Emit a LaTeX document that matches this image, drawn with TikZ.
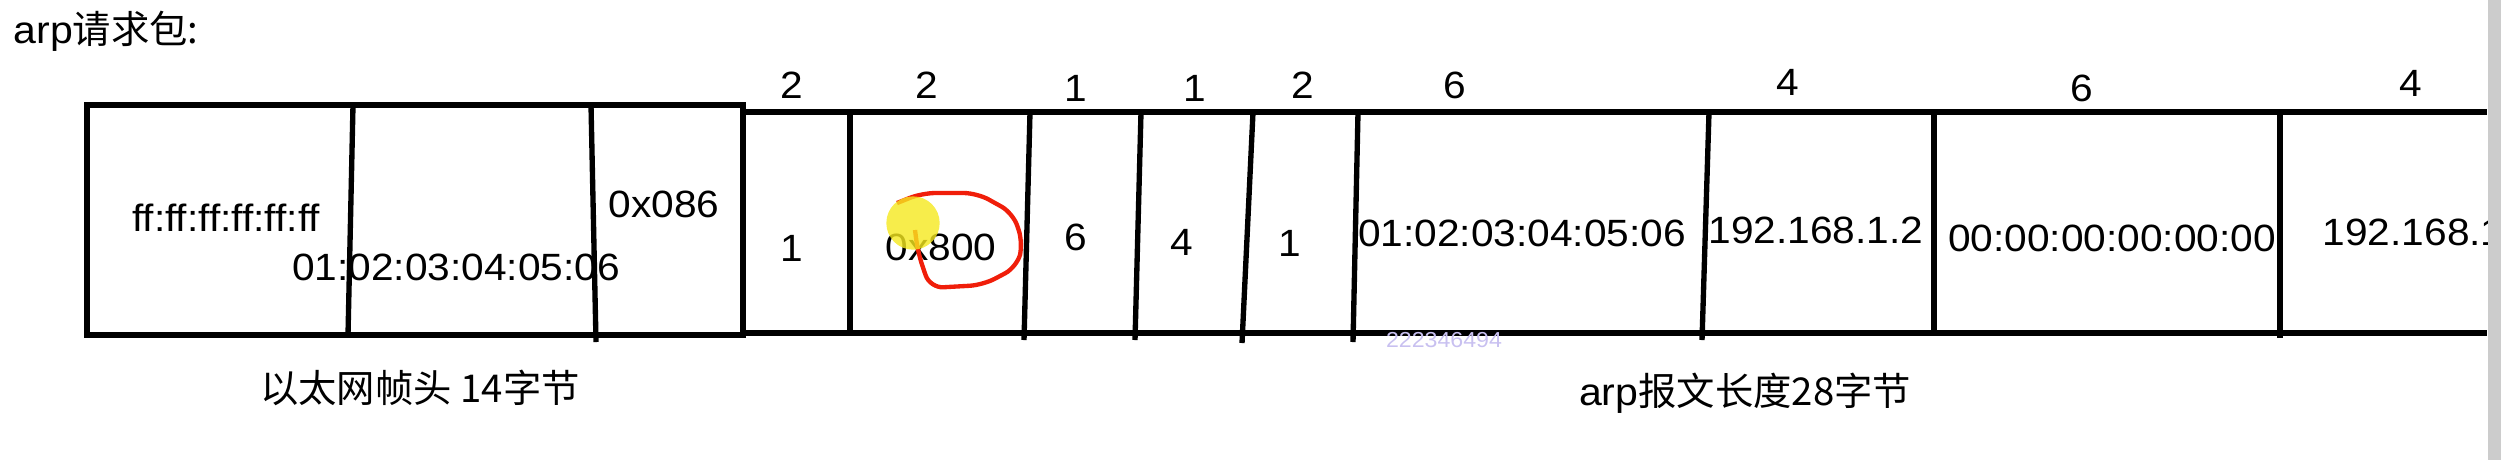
\documentclass[tikz,border=0pt]{standalone}
\usepackage{fontspec}
\setmainfont[FakeStretch=1.07]{Liberation Sans}
\newfontfamily\cjk{Noto Sans CJK SC}
\definecolor{edgegray}{RGB}{204,204,204}
\definecolor{penred}{RGB}{240,30,10}
\definecolor{penyellow}{RGB}{245,232,30}
\definecolor{markpurple}{RGB}{200,192,240}

\begin{document}
\begin{tikzpicture} [
                x=0.3pt, y=-0.3pt,
                framelines/.style={
                    line width=2pt
                },
                arplines/.style={
                    line width=1.7pt
                },
                splitline/.style={
                    line width=1.6pt
                },
                fieldtext/.style={
                    inner sep=0pt,
                    font=\fontsize{11.4}{13}\selectfont
                },
                captiontext/.style={
                    inner sep=0pt,
                    font=\fontsize{11.5}{14}\selectfont
                }
            ]
                \useasboundingbox (0,0) rectangle (2501,460);
                \node[captiontext, anchor=base west] (title) at (13,43) {arp\cjk{请求包}:};

                % ethernet header
                \draw[framelines] (87,105) rectangle (743,335);
                \draw[framelines] (743,103) -- (743,338);
                \draw[splitline] (353,105) -- (348,335);
                \draw[splitline] (591,105) -- (596,342);
                \node[fieldtext] (e0) at (226,218) {ff:ff:ff:ff:ff:ff};
                \node[fieldtext] (e1) at (456,267) {01:02:03:04:05:06};
                \node[fieldtext] (e2) at (664,204) {0x086};
                \node[captiontext] (ethcap) at (420,388) {\cjk{以太网帧头} 14\cjk{字节}};

                % arp body
                \draw[arplines] (743,112) -- (2487,112);
                \draw[arplines] (743,333) -- (2487,333);
                \draw[splitline] (850,112) -- (850,333);
                \draw[splitline] (1030,112) -- (1024,340);
                \draw[splitline] (1141,112) -- (1135,340);
                \draw[splitline] (1253,112) -- (1242,343);
                \draw[splitline] (1358,112) -- (1353,342);
                \draw[splitline] (1709,112) -- (1702,340);
                \draw[splitline] (1934,112) -- (1934,333);
                \draw[splitline] (2280,112) -- (2280,338);

                \node[fieldtext] (sz0) at (792,85) {2};
                \node[fieldtext] (sz1) at (927,85) {2};
                \node[fieldtext] (sz2) at (1076,88) {1};
                \node[fieldtext] (sz3) at (1195,88) {1};
                \node[fieldtext] (sz4) at (1303,85) {2};
                \node[fieldtext] (sz5) at (1455,85) {6};
                \node[fieldtext] (sz6) at (1788,82) {4};
                \node[fieldtext] (sz7) at (2082,88) {6};
                \node[fieldtext] (sz8) at (2411,83) {4};

                \node[fieldtext] (f0) at (792,248) {1};
                \node[fieldtext] (f1) at (941,247) {0x800};
                \node[fieldtext] (f2) at (1076,237) {6};
                \node[fieldtext] (f3) at (1182,242) {4};
                \node[fieldtext] (f4) at (1290,243) {1};
                \node[fieldtext] (f5) at (1522,233) {01:02:03:04:05:06};
                \node[fieldtext] (f6) at (1816,230) {192.168.1.2};
                \node[fieldtext] (f7) at (2112,238) {00:00:00:00:00:00};
                \begin{scope}
                    \clip (2290,120) rectangle (2487,325);
                    \node[fieldtext, anchor=west] (f8) at (2322,232) {192.168.1.1};
                \end{scope}
                \node[captiontext] (arpcap) at (1745,393) {arp\cjk{报文长度}28\cjk{字节}};

                % pen marks
                \draw[penred, line width=1.3pt, rounded corners=4pt] (897,203) -- (922,193) -- (977,193) -- (1013,213) -- (1023,243) -- (1017,267) -- (983,285) -- (930,288) -- (918,253) -- (915,230);
                \fill[penyellow, opacity=.8] (913,223) circle [radius=8pt];
                \node[inner sep=0pt, text=markpurple, font=\fontsize{6.5}{8}\selectfont] (mark) at (1444,340) {222346494};

                \fill[edgegray] (2488,0) rectangle (2501,460);
            \end{tikzpicture}
\end{document}
